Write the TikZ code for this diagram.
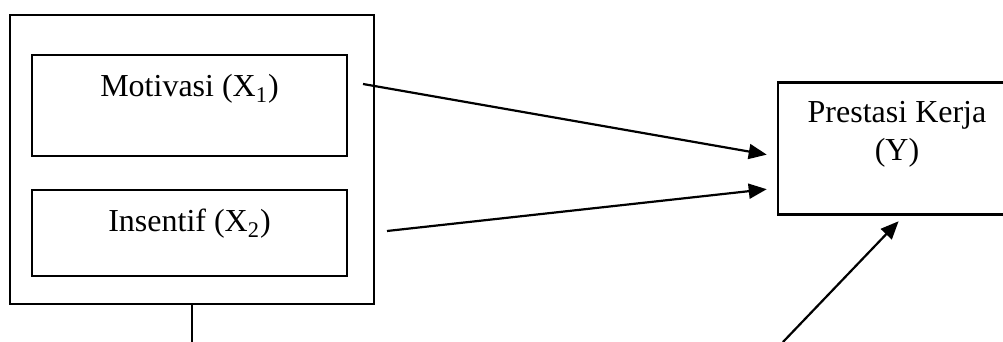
\documentclass[tikz,border=0pt]{standalone}
\usepackage{fontspec}
\setmainfont{Liberation Serif}
\usepackage{tikz}
\usetikzlibrary{arrows.meta,positioning}

\begin{document}
\begin{tikzpicture}[x=0.5pt,y=0.5pt,
  box/.style={draw,rectangle,line width=1.3pt,inner sep=0pt,align=center,font=\fontsize{16}{19}\selectfont},
  varbox/.style={box,minimum width=157.5pt,text height=21pt},
  arr/.style={-{Triangle[length=9pt,width=7.5pt]},line width=1.1pt,shorten >=1pt},
  line/.style={line width=1.1pt}
]
\useasboundingbox (0,0) rectangle (1003,342);

% Outer frame holding the independent variables
\node[box,minimum width=182pt,minimum height=144.5pt] (frame) at (192,182.5) {};

% Independent variables
\node[varbox,minimum height=50.5pt,text depth=29.5pt] (motivasi) at (189.5,236.5) {Motivasi (X\textsubscript{1})};
\node[varbox,minimum height=43pt,text depth=22pt] (insentif) at (189.5,109) {Insentif (X\textsubscript{2})};

% Dependent variable (cut by the right edge)
\node[box,minimum width=119pt,minimum height=65.5pt,text height=39pt,text depth=27pt] (prestasi) at (897,193.5) {Prestasi Kerja\\(Y)};

% Free ends of the connectors
\coordinate (m1) at (363,258);
\coordinate (i1) at (387,111);
\coordinate (b1) at (783,0);

% Arrows
\draw[arr] (m1) -- ([yshift=-3.25pt,xshift=-4pt]prestasi.west);
\draw[arr] (i1) -- ([yshift=-20.25pt,xshift=-4pt]prestasi.west);
\draw[arr] (b1) -- ([xshift=1.5pt,yshift=-2pt]prestasi.south);
\draw[line] (frame.south) -- (frame.south |- b1);

\end{tikzpicture}
\end{document}
